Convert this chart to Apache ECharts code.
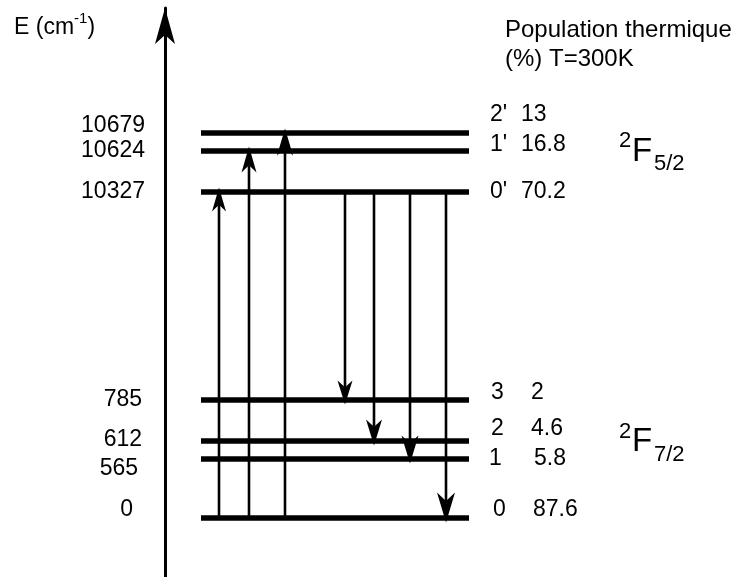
<!DOCTYPE html>
<html><head><meta charset="utf-8">
<script src="https://cdn.jsdelivr.net/npm/echarts@6/dist/echarts.min.js"></script>
<style>html,body{margin:0;padding:0;background:#fff}#chart{width:734px;height:577px}</style>
</head><body><div id="chart"></div>
<script>
// ---------------- data ----------------
const levelNames = ["0", "1", "2", "3", "0'", "1'", "2'"];
const levelEnergies = [0, 565, 612, 785, 10327, 10624, 10679];            // cm-1
const levelPopulations = ["87.6", "5.8", "4.6", "2", "70.2", "16.8", "13"]; // % at T = 300 K
// schematic (broken) height of each level on the diagram's energy axis
const levelDiagramHeights = [0, 59, 77, 118, 326, 367, 385];
const transitionFrom = [0, 0, 0, 4, 4, 4, 4];
const transitionTo = [4, 5, 6, 3, 2, 1, 0];
const multipletSpin = ["2", "2"];
const multipletTerm = ["F", "F"];
const multipletJ = ["7/2", "5/2"];
const headerLines = ["Population thermique", "(%) T=300K"];
const axisTitle = ["E (cm", "-1", ")"];

// ---------------- layout ----------------
const FONT = 'Liberation Sans';
const LEVEL_X = [201, 469];
const LEVEL_WIDTH = 5.5;
const LEFT_LABEL_X = [133, 138, 142, 142, 145, 145, 145];
const LEFT_LABEL_DY = [-8, 10, -1, 0, 0, 0, -7];
const NAME_X = [493, 489, 491, 491, 490, 490, 490];
const POP_X = [533, 534, 531, 531, 521, 521, 521];
const RIGHT_LABEL_DY = [-8, 0, -12, -7, 0, -6, -18];
const TRANSITION_X = [219, 249, 285, 345, 374, 410, 446];
const ARROW_SIZE = [[14, 24], [15, 26], [16, 27], [15, 24], [16, 26], [17, 28], [18, 30]];
const TIP_OVERSHOOT = 4.5;
const MULTIPLET_POS = [[619, 442], [619, 151.5]];

const chart = echarts.init(document.getElementById('chart'));

function txt(x, y, text, size, align) {
  return {type: 'text', x: x, y: y, style: {text: text, fontSize: size, fontFamily: FONT,
    fill: '#000', align: align || 'left', verticalAlign: 'middle'}};
}

const graphics = [];
MULTIPLET_POS.forEach(function (p, m) {
  graphics.push(txt(p[0], p[1] - 10.3, multipletSpin[m], 22));
  graphics.push(txt(p[0] + 13, p[1], multipletTerm[m], 33));
  graphics.push(txt(p[0] + 35, p[1] + 12.7, multipletJ[m], 22));
});
graphics.push({type: 'text', left: 14, top: 11, style: {
  text: '{a|' + axisTitle[0] + '}{b|' + axisTitle[1] + '}{a|' + axisTitle[2] + '}',
  rich: {
    a: {fontSize: 23, lineHeight: 28, verticalAlign: 'bottom', fontFamily: FONT, fill: '#000'},
    b: {fontSize: 15, lineHeight: 17, verticalAlign: 'top', fontFamily: FONT, fill: '#000'}
  }}});

chart.setOption({
  animation: false,
  title: {text: headerLines.join('\n'), left: 505, top: 16, padding: 0,
    textStyle: {fontSize: 24, lineHeight: 29, fontWeight: 'normal', color: '#000', fontFamily: FONT}},
  grid: {left: 165, right: 0, top: 8, bottom: 0},
  xAxis: {type: 'value', min: 165, max: 734, show: false},
  yAxis: {type: 'value', min: -59, max: 510, position: 'left',
    axisLine: {show: true, onZero: false, symbol: ['none', 'arrow'], symbolSize: [15, 36],
      lineStyle: {color: '#000', width: 3}},
    axisTick: {show: false}, axisLabel: {show: false}, splitLine: {show: false}},
  graphic: graphics,
  series: [
    {
      type: 'custom', name: 'levels', coordinateSystem: 'cartesian2d',
      encode: {x: 0, y: 1},
      data: levelDiagramHeights.map(function (h, i) { return [LEVEL_X[0], h, levelEnergies[i]]; }),
      renderItem: function (params, api) {
        const i = params.dataIndex;
        const h = api.value(1);
        const a = api.coord([LEVEL_X[0], h]);
        const b = api.coord([LEVEL_X[1], h]);
        return {type: 'group', children: [
          {type: 'line', shape: {x1: a[0], y1: a[1], x2: b[0], y2: b[1]},
            style: {stroke: '#000', lineWidth: LEVEL_WIDTH}},
          txt(LEFT_LABEL_X[i], a[1] + LEFT_LABEL_DY[i], String(levelEnergies[i]), 23, 'right'),
          txt(NAME_X[i], a[1] + RIGHT_LABEL_DY[i], levelNames[i], 23),
          txt(POP_X[i], a[1] + RIGHT_LABEL_DY[i], levelPopulations[i], 23)
        ]};
      }
    },
    {
      type: 'custom', name: 'transitions', coordinateSystem: 'cartesian2d',
      encode: {x: 0, y: [1, 2]},
      data: transitionFrom.map(function (f, k) {
        return [TRANSITION_X[k], levelDiagramHeights[f], levelDiagramHeights[transitionTo[k]]];
      }),
      renderItem: function (params, api) {
        const k = params.dataIndex;
        const s = api.coord([api.value(0), api.value(1)]);
        const e = api.coord([api.value(0), api.value(2)]);
        const dir = e[1] < s[1] ? -1 : 1;
        const w = ARROW_SIZE[k][0], L = ARROW_SIZE[k][1];
        const x = s[0];
        const tipY = e[1] + dir * TIP_OVERSHOOT;
        const baseY = tipY - dir * L;
        const notchY = tipY - dir * L * 0.72;
        return {type: 'group', children: [
          {type: 'line', shape: {x1: x, y1: s[1], x2: x, y2: notchY},
            style: {stroke: '#000', lineWidth: 2.6}},
          {type: 'polygon', shape: {points: [[x, tipY], [x + w / 2, baseY], [x, notchY], [x - w / 2, baseY]]},
            style: {fill: '#000'}}
        ]};
      }
    }
  ]
});
</script></body></html>
